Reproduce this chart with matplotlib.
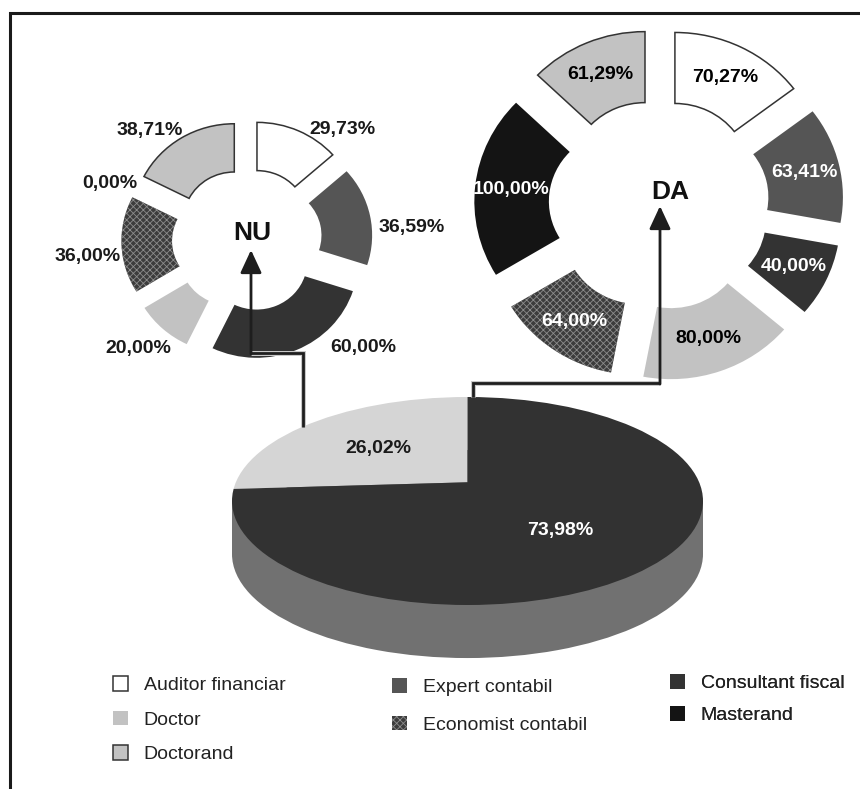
import matplotlib
matplotlib.use('Agg')
import matplotlib.pyplot as plt
from matplotlib.patches import Patch, Circle
import matplotlib.patheffects as pe

plt.rcParams['font.family'] = ['Liberation Sans', 'DejaVu Sans']
plt.rcParams['hatch.linewidth'] = 0.6

# ---------------- data ----------------
categories = ['Auditor financiar', 'Expert contabil', 'Consultant fiscal', 'Doctor',
              'Economist contabil', 'Masterand', 'Doctorand']
nu_values = [29.73, 36.59, 60.00, 20.00, 36.00, 0.00, 38.71]
da_values = [70.27, 63.41, 40.00, 80.00, 64.00, 100.00, 61.29]
overall_labels = ['NU', 'DA']
overall_values = [26.02, 73.98]


def fmt(v):
    return f"{v:.2f}".replace('.', ',') + '%'


# ---------------- styles ----------------
face = ['#ffffff', '#555555', '#333333', '#c2c2c2', '#3c3c3c', '#141414', '#c2c2c2']
edge = ['#333333', 'none', 'none', 'none', '#8c8c8c', 'none', '#333333']
lwid = [1.1, 0, 0, 0, 0, 0, 1.1]
hatch = [None, None, None, None, 'xxxxx', None, None]
da_text_color = ['black', 'white', 'white', 'black', 'white', 'white', 'black']
pie_colors = ['#d5d5d5', '#323232']
side_color = '#717171'
dark = '#1e1e1e'
PCT_SIZE = 14

W, H = 860, 789
fig = plt.figure(figsize=(W / 100, H / 100), dpi=100)


def axes_px(left, top, width, height):
    return fig.add_axes([left / W, 1 - (top + height) / H, width / W, height / H])


# ---------------- 3D main pie ----------------
a_px, b_px = 235.5, 104.0
pcx, pcy = 467.5, 501.0
depth = 0.51
xm, ym = 1.02, 1.02
ax_p = axes_px(pcx - xm * a_px, pcy - ym * b_px, 2 * xm * a_px, b_px * (ym + 1 + depth))
ax_p.set_xlim(-xm, xm)
ax_p.set_ylim(-1 - depth, ym)
ax_p.pie([sum(overall_values)], colors=[side_color], startangle=90, center=(0, -depth),
         radius=1, wedgeprops=dict(linewidth=0))
ax_p.fill_between([-1, 1], -depth, 0, color=side_color, lw=0)
top_face = Circle((0, 0), 1, transform=ax_p.transData)
top_wedges, _ = ax_p.pie(overall_values, colors=pie_colors, startangle=90, radius=1.4,
                         center=(0, 0.18), wedgeprops=dict(linewidth=0))
for w in top_wedges:
    w.set_clip_on(True)
    w.set_clip_path(top_face)
ax_p.set_aspect('auto')
ax_p.set_xlim(-xm, xm)
ax_p.set_ylim(-1 - depth, ym)
ax_p.axis('off')


# ---------------- exploded doughnuts ----------------
def donut(cx, cy, r_px, values, labels=None, labeldistance=None):
    sx = 1.05
    ax = axes_px(cx - 1.5 * r_px * sx, cy - 1.5 * r_px, 3 * r_px * sx, 3 * r_px)
    res = ax.pie(values, startangle=90, counterclock=False, radius=1,
                 explode=[0.24] * len(values), colors=face,
                 wedgeprops=dict(width=0.5), labels=labels,
                 labeldistance=labeldistance,
                 textprops=dict(fontsize=PCT_SIZE, fontweight='bold'))
    wedges = res[0]
    for w, ec, lw_, h in zip(wedges, edge, lwid, hatch):
        w.set_edgecolor(ec)
        w.set_linewidth(lw_)
        if h:
            w.set_hatch(h)
    ax.set_aspect('auto')
    ax.set_xlim(-1.5, 1.5)
    ax.set_ylim(-1.5, 1.5)
    ax.axis('off')
    return res


donut(247, 240, 96.5, nu_values)
_, da_texts = donut(659, 205, 142, da_values,
                    labels=[fmt(v) for v in da_values], labeldistance=0.76)
for t, c in zip(da_texts, da_text_color):
    t.set_ha('center')
    t.set_va('center')
    t.set_color(c)

# ---------------- overlay: texts, arrows, frame, legend ----------------
ax_o = fig.add_axes([0, 0, 1, 1])
ax_o.set_xlim(0, W)
ax_o.set_ylim(H, 0)
ax_o.axis('off')

nu_label_pos = [(342, 129), (412, 227), (363, 347), (138, 348), (88, 257), (110, 183), (150, 130)]
for v, (x, y) in zip(nu_values, nu_label_pos):
    ax_o.text(x, y, fmt(v), ha='center', va='center', fontsize=PCT_SIZE, fontweight='bold',
              color='#1a1a1a')

ax_o.text(378, 448, fmt(overall_values[0]), ha='center', va='center', fontsize=PCT_SIZE,
          fontweight='bold', color='#1a1a1a')
ax_o.text(560, 530, fmt(overall_values[1]), ha='center', va='center', fontsize=PCT_SIZE,
          fontweight='bold', color='white')

ax_o.text(252, 233, overall_labels[0], ha='center', va='center', fontsize=19,
          fontweight='bold', color='#111111')
ax_o.text(670, 192, overall_labels[1], ha='center', va='center', fontsize=19,
          fontweight='bold', color='#111111')

halo = [pe.withStroke(linewidth=3.6, foreground='#c8c8c8')]
conn_kw = dict(color=dark, lw=2.0, solid_joinstyle='miter', solid_capstyle='butt')
arrow_kw = dict(arrowstyle='-|>,head_length=1.4,head_width=0.65', lw=2.0, color=dark,
                shrinkA=0, shrinkB=0, mutation_scale=10)
ax_o.plot([303, 303, 251], [427, 353, 353], path_effects=halo, **conn_kw)
ax_o.annotate('', xy=(251, 250), xytext=(251, 354), arrowprops=arrow_kw)
ax_o.plot([473, 473, 660], [397, 383, 383], path_effects=halo, **conn_kw)
ax_o.annotate('', xy=(660, 206), xytext=(660, 384), arrowprops=arrow_kw)

# frame
ax_o.plot([10, 10, W], [H, 13, 13], color='#1a1a1a', lw=2.2, solid_joinstyle='miter')

# legend in three columns
col_groups = [[0, 3, 6], [1, 4], [2, 5]]
col_anchor = [(113, 676), (392, 678), (670, 674)]
col_spacing = [0.85, 1.0, 0.72]
for grp, anc, sp in zip(col_groups, col_anchor, col_spacing):
    handles = []
    for i in grp:
        p = Patch(facecolor=face[i], edgecolor=edge[i] if edge[i] != 'none' else face[i],
                  hatch=hatch[i], linewidth=lwid[i])
        handles.append(p)
    leg = ax_o.legend(handles, [categories[i] for i in grp], loc='upper left',
                      bbox_to_anchor=anc, bbox_transform=ax_o.transData,
                      frameon=False, fontsize=14, borderpad=0, borderaxespad=0,
                      handlelength=0.78, handleheight=0.78, handletextpad=0.8,
                      labelspacing=sp, labelcolor='#222222')
    ax_o.add_artist(leg)

fig.savefig('out.png', dpi=100)
